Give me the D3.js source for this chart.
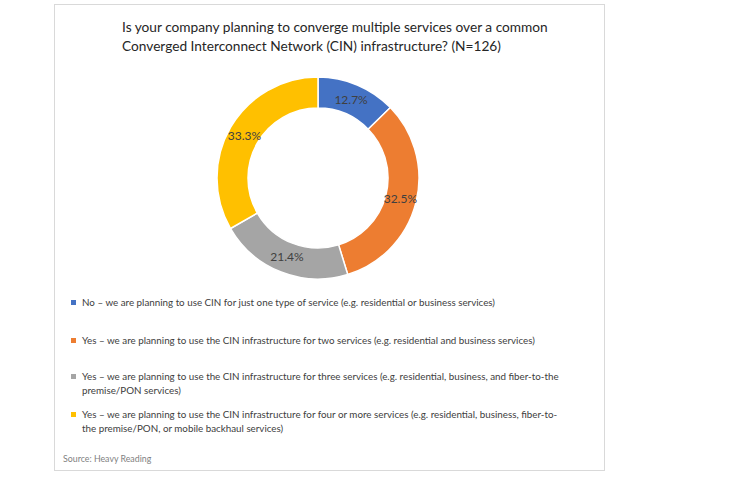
<!DOCTYPE html>
<html>
<head>
<meta charset="utf-8">
<script src="https://cdn.jsdelivr.net/npm/d3@7"></script>
<style>
body{margin:0;background:#fff;}
svg{display:block;}
</style>
</head>
<body>
<div class="canvas"></div>
<script>
// data
const titleLines = ['Is your company planning to converge multiple services over a common',
	'Converged Interconnect Network (CIN) infrastructure? (N=126)'];
const categories = [
	['No \u2013 we are planning to use CIN for just one type of service (e.g. residential or business services)'],
	['Yes \u2013 we are planning to use the CIN infrastructure for two services (e.g. residential and business services)'],
	['Yes \u2013 we are planning to use the CIN infrastructure for three services (e.g. residential, business, and fiber-to-the', 'premise/PON services)'],
	['Yes \u2013 we are planning to use the CIN infrastructure for four or more services (e.g. residential, business, fiber-to-', 'the premise/PON, or mobile backhaul services)']
];
const values = [12.7, 32.5, 21.4, 33.3];
const colors = ['#4472C4', '#ED7D31', '#A5A5A5', '#FFC000'];
const source = 'Source: Heavy Reading';

const W = 746, H = 477;
const cx = 318, cy = 178;
const rOut = 101, rIn = 70;

var svg = d3.select('.canvas')
	.append('svg')
	.attr('width', W)
	.attr('height', H)
	.style('font-family', 'Lato, "Open Sans", sans-serif');

// frame
svg.append('rect')
	.attr('x', 54.5).attr('y', 4.5)
	.attr('width', 550).attr('height', 466)
	.attr('fill', '#fff')
	.attr('stroke', '#d9d9d9');

// title
svg.append('g').selectAll('text')
	.data(titleLines)
	.enter()
	.append('text')
	.attr('x', 122)
	.attr('y', (d, i) => 32 + i * 19)
	.attr('font-size', 13.7)
	.attr('fill', '#262626')
	.text(d => d);

// donut
var pie = d3.pie().sort(null).value(d => d);
var arc = d3.arc().innerRadius(rIn).outerRadius(rOut);
var labelArc = d3.arc().innerRadius(85).outerRadius(85);

var donut = svg.append('g')
	.attr('transform', `translate(${cx},${cy})`);

donut.selectAll('path')
	.data(pie(values))
	.enter()
	.append('path')
	.attr('d', arc)
	.attr('fill', (d, i) => colors[i])
	.attr('stroke', '#fff')
	.attr('stroke-width', 1.5);

donut.selectAll('.lbl')
	.data(pie(values))
	.enter()
	.append('text')
	.attr('class', 'lbl')
	.attr('transform', d => `translate(${labelArc.centroid(d)})`)
	.attr('text-anchor', 'middle')
	.attr('dy', '0.35em')
	.attr('font-size', 12)
	.attr('fill', '#404040')
	.text(d => d3.format('.1f')(d.data) + '%');

// legend
var legendY = [306, 344, 380, 418];
var legend = svg.append('g')
	.selectAll('g')
	.data(categories)
	.enter()
	.append('g')
	.attr('transform', (d, i) => `translate(0,${legendY[i]})`);

legend.append('rect')
	.attr('x', 71).attr('y', -6)
	.attr('width', 5).attr('height', 5)
	.attr('fill', (d, i) => colors[i]);

legend.append('text')
	.attr('font-size', 9.8)
	.attr('fill', '#404040')
	.selectAll('tspan')
	.data(d => d)
	.enter()
	.append('tspan')
	.attr('x', 82)
	.attr('y', (d, i) => i * 13.5)
	.text(d => d);

// source
svg.append('text')
	.attr('x', 63).attr('y', 462)
	.attr('font-size', 8.8)
	.attr('fill', '#7f7f7f')
	.text(source);
</script>
</body>
</html>
